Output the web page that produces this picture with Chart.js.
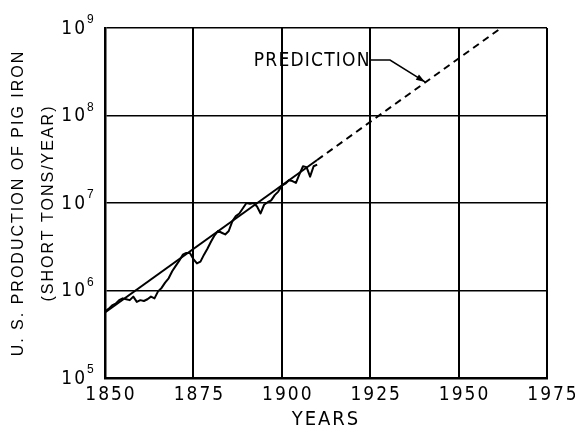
<!DOCTYPE html>
<html><head><meta charset="utf-8">
<script src="https://cdn.jsdelivr.net/npm/chart.js@4/dist/chart.umd.min.js"></script>
<style>html,body{margin:0;padding:0;background:#fff;} canvas{display:block;}</style>
</head><body>
<canvas id="c" width="575" height="428"></canvas>
<script>
// ---- data ----
const years = [1850,1851,1852,1853,1854,1855,1856,1857,1858,1859,
               1860,1861,1862,1863,1864,1865,1866,1867,1868,1869,
               1870,1871,1872,1873,1874,1875,1876,1877,1878,1879,
               1880,1881,1882,1883,1884,1885,1886,1887,1888,1889,
               1890,1891,1892,1893,1894,1895,1896,1897,1898,1899,
               1900,1901,1902,1903,1904,1905,1906,1907,1908,1909,1910];
const pigIron = [5.75e5,6.17e5,6.76e5,7.08e5,7.76e5,8.13e5,7.94e5,7.76e5,8.51e5,7.41e5,
                 7.76e5,7.59e5,7.94e5,8.51e5,8.13e5,9.77e5,1.07e6,1.23e6,1.38e6,1.66e6,
                 1.91e6,2.19e6,2.57e6,2.69e6,2.69e6,2.29e6,2.04e6,2.14e6,2.57e6,3.02e6,
                 3.63e6,4.27e6,4.79e6,4.57e6,4.37e6,4.79e6,6.17e6,7.08e6,7.59e6,8.71e6,
                 1.00e7,9.77e6,1.00e7,9.12e6,7.59e6,9.55e6,1.02e7,1.07e7,1.23e7,1.35e7,
                 1.58e7,1.66e7,1.82e7,1.78e7,1.70e7,2.14e7,2.63e7,2.57e7,2.00e7,2.63e7,2.75e7];
const trendYears = [1850, 1910];
const trendValues = [5.6e5, 3.1e7];
const predictionYears = [1910, 1962];
const predictionValues = [3.1e7, 1.0e9];
const xTicks = [1850, 1875, 1900, 1925, 1950, 1975];
const yTickExponents = [5, 6, 7, 8, 9];
const xTitle = 'YEARS';
const yTitle = ['U. S. PRODUCTION OF PIG IRON', '(SHORT TONS/YEAR)'];
const predictionLabel = 'PREDICTION';

const NARROW = '"Liberation Sans Narrow", "DejaVu Sans Condensed", "Liberation Sans", sans-serif';
const REG = '"Liberation Sans", "DejaVu Sans", sans-serif';

const pts = (xs, ys) => xs.map((v, i) => ({x: v, y: ys[i]}));

const annot = {
  id: 'annot',
  beforeDraw(chart) { chart.ctx.letterSpacing = '2px'; },
  afterDraw(chart) {
    const {ctx, scales: {x, y}} = chart;
    ctx.save();
    ctx.fillStyle = '#000';
    ctx.strokeStyle = '#000';
    // exponents of y tick labels
    ctx.letterSpacing = '0px';
    ctx.font = '12px ' + REG;
    ctx.textAlign = 'left';
    ctx.textBaseline = 'alphabetic';
    yTickExponents.forEach(e => {
      const py = y.getPixelForValue(Math.pow(10, e));
      ctx.fillText(String(e), y.right - 18, py - 5);
    });
    // prediction label with leader and arrow
    ctx.letterSpacing = '1.2px';
    ctx.font = '19px ' + NARROW;
    ctx.textBaseline = 'middle';
    ctx.fillText(predictionLabel, x.getPixelForValue(1892.1), y.getPixelForValue(4.2e8));
    const p0 = [x.getPixelForValue(1924.9), y.getPixelForValue(4.3e8)];
    const p1 = [x.getPixelForValue(1930.6), y.getPixelForValue(4.3e8)];
    const p2 = [x.getPixelForValue(1940.5), y.getPixelForValue(2.42e8)];
    ctx.lineWidth = 1.5;
    ctx.beginPath();
    ctx.moveTo(p0[0], p0[1]); ctx.lineTo(p1[0], p1[1]); ctx.lineTo(p2[0], p2[1]);
    ctx.stroke();
    const ang = Math.atan2(p2[1] - p1[1], p2[0] - p1[0]);
    const L = 9, W = 3;
    ctx.beginPath();
    ctx.moveTo(p2[0], p2[1]);
    ctx.lineTo(p2[0] - L * Math.cos(ang) + W * Math.sin(ang), p2[1] - L * Math.sin(ang) - W * Math.cos(ang));
    ctx.lineTo(p2[0] - L * Math.cos(ang) - W * Math.sin(ang), p2[1] - L * Math.sin(ang) + W * Math.cos(ang));
    ctx.closePath();
    ctx.fill();
    ctx.restore();
  }
};

new Chart(document.getElementById('c'), {
  type: 'line',
  data: {
    datasets: [
      {data: pts(years, pigIron), borderColor: '#000', borderWidth: 2, pointRadius: 0, tension: 0, borderJoinStyle: 'round'},
      {data: pts(trendYears, trendValues), borderColor: '#000', borderWidth: 2, pointRadius: 0},
      {data: pts(predictionYears, predictionValues), borderColor: '#000', borderWidth: 2, pointRadius: 0, borderDash: [7, 5]}
    ]
  },
  options: {
    responsive: false,
    animation: false,
    devicePixelRatio: 1,
    layout: {padding: {left: 0, top: 28, right: 28, bottom: 0}},
    plugins: {legend: {display: false}, tooltip: {enabled: false}},
    scales: {
      x: {
        type: 'linear', min: 1850, max: 1975,
        afterBuildTicks(s) { s.ticks = xTicks.map(v => ({value: v})); },
        afterFit(s) { s.height = 50; s.paddingLeft = 0; s.paddingRight = 0; },
        ticks: {callback: v => String(v), color: '#000', padding: 6, labelOffset: 6, maxRotation: 0, autoSkip: false,
                font: {family: NARROW, size: 19}},
        grid: {color: '#000', lineWidth: 2, drawTicks: false},
        border: {color: '#000', width: 2.5},
        title: {display: true, text: xTitle, color: '#000', font: {family: NARROW, size: 20, lineHeight: 0.8}, padding: {top: 0, bottom: 0}}
      },
      y: {
        type: 'logarithmic', min: 1e5, max: 1e9,
        afterBuildTicks(s) { s.ticks = yTickExponents.map(e => ({value: Math.pow(10, e)})); },
        afterFit(s) { s.width = 105; s.paddingTop = 0; s.paddingBottom = 0; },
        ticks: {callback: () => '10', color: '#000', padding: 18, labelOffset: 1, autoSkip: false,
                font: {family: NARROW, size: 19}},
        grid: {color: '#000', lineWidth: 1.5, drawTicks: false},
        border: {color: '#000', width: 2.5},
        title: {display: true, text: yTitle, color: '#000', font: {family: REG, size: 16, lineHeight: 1.875}, padding: {top: 4, bottom: 0}}
      }
    }
  },
  plugins: [annot]
});
</script>
</body></html>
